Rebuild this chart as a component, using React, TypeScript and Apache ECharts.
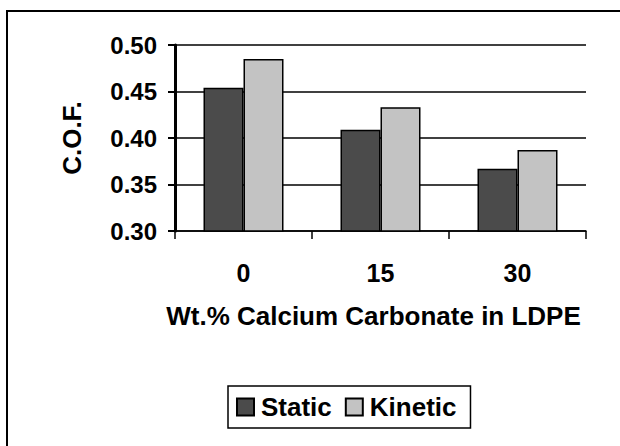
import React, { useEffect, useRef } from "react";
import * as echarts from "echarts";

const categories = ["0", "15", "30"];
const staticValues = [0.454, 0.409, 0.367];
const kineticValues = [0.485, 0.433, 0.387];
const yMin = 0.3;
const yMax = 0.5;
const yInterval = 0.05;

const FONT = "'Liberation Sans', Arial, sans-serif";

export default function App() {
  const ref = useRef<HTMLDivElement>(null);
  useEffect(() => {
    if (!ref.current) return;
    const chart = echarts.init(ref.current, undefined, { renderer: "svg" });
    chart.setOption({
      animation: false,
      backgroundColor: "#ffffff",
      textStyle: { fontFamily: FONT },
      grid: { left: 175, right: 34, top: 45, bottom: 215, containLabel: false },
      graphic: [
        {
          type: "rect",
          shape: { x: 7, y: 11, width: 640, height: 460 },
          style: { fill: "none", stroke: "#000", lineWidth: 2 },
          silent: true,
        },
      ],
      legend: {
        left: 228,
        top: 386,
        orient: "horizontal",
        padding: [8, 14, 8, 8],
        itemGap: 13,
        itemWidth: 17,
        itemHeight: 17,
        borderColor: "#000",
        borderWidth: 1.5,
        icon: "rect",
        textStyle: { fontFamily: FONT, fontSize: 26, fontWeight: "bold", color: "#000", padding: [0, 0, 0, 2] },
        data: ["Static", "Kinetic"],
      },
      xAxis: {
        type: "category",
        data: categories,
        name: "Wt.% Calcium Carbonate in LDPE",
        nameLocation: "middle",
        nameGap: 72,
        nameTextStyle: { fontFamily: FONT, fontSize: 26, fontWeight: "bold", color: "#000", padding: [0, 14, 0, 0] },
        axisLine: { lineStyle: { color: "#000", width: 1.5 } },
        axisTick: { show: true, length: 8, lineStyle: { color: "#000", width: 1.5 } },
        axisLabel: { fontFamily: FONT, fontSize: 25, fontWeight: "bold", color: "#000", margin: 29 },
      },
      yAxis: {
        type: "value",
        min: yMin,
        max: yMax,
        interval: yInterval,
        name: "C.O.F.",
        nameLocation: "middle",
        nameGap: 90,
        nameRotate: 90,
        nameTextStyle: { fontFamily: FONT, fontSize: 26, fontWeight: "bold", color: "#000" },
        axisLine: { show: true, lineStyle: { color: "#000", width: 3 } },
        axisTick: { show: true, length: 7, lineStyle: { color: "#000", width: 2 } },
        axisLabel: {
          fontFamily: FONT,
          fontSize: 24,
          fontWeight: "bold",
          color: "#000",
          margin: 18,
          formatter: (v: number) => v.toFixed(2),
        },
        splitLine: { show: true, lineStyle: { color: "#000", width: 1.5 } },
      },
      series: [
        {
          name: "Static",
          type: "bar",
          data: staticValues,
          barWidth: 40,
          barGap: "0%",
          itemStyle: { color: "#4b4b4b", borderColor: "#000", borderWidth: 1.5 },
        },
        {
          name: "Kinetic",
          type: "bar",
          data: kineticValues,
          barWidth: 40,
          barGap: "0%",
          itemStyle: { color: "#c3c3c3", borderColor: "#000", borderWidth: 1.5 },
        },
      ],
    });
    return () => chart.dispose();
  }, []);
  return (
    <div
      ref={ref}
      style={{ position: "fixed", left: 0, top: 0, width: 620, height: 446, background: "#fff" }}
    />
  );
}
